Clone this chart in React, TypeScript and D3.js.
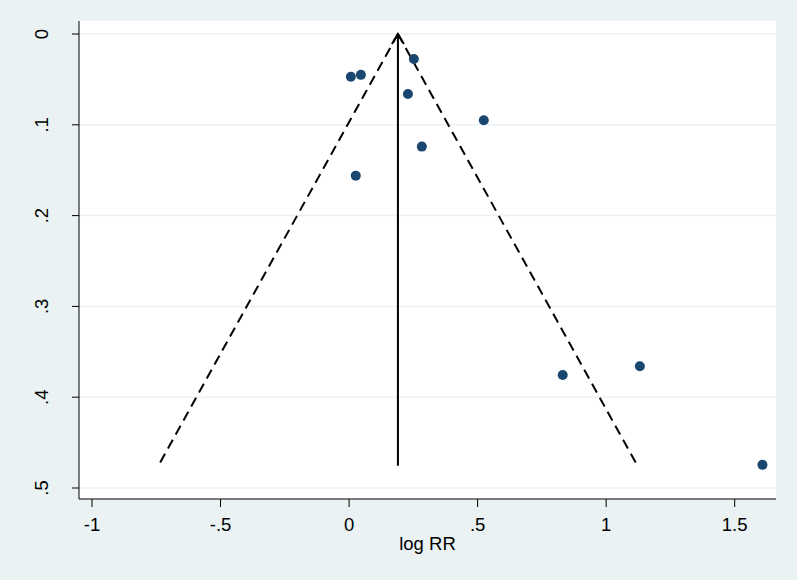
import React from "react";
import * as d3 from "d3";

// study estimates (log RR) and their standard errors
const logRR = [0.007, 0.046, 0.252, 0.229, 0.524, 0.283, 0.026, 0.831, 1.131, 1.608];
const seLogRR = [0.047, 0.045, 0.0275, 0.066, 0.095, 0.124, 0.156, 0.3755, 0.366, 0.4745];

// pooled estimate and max standard error for the funnel
const pooled = [0.19];
const seMax = [0.4755];

const xTicks = [-1, -0.5, 0, 0.5, 1, 1.5];
const yTicks = [0, 0.1, 0.2, 0.3, 0.4, 0.5];

const W = 797;
const H = 580;
const plot = { left: 79, right: 776, top: 21, bottom: 499 };

// Stata style labels: ".5", "-.5"
const fmt = (v: number) => {
  const s = String(+v.toFixed(2));
  return s.replace(/^0\./, ".").replace(/^-0\./, "-.");
};

const App = () => {
  const x = d3.scaleLinear().domain([-1, 1.5]).range([92, 734.7]);
  const y = d3.scaleLinear().domain([0, 0.5]).range([34, 488]);

  const p = pooled[0];
  const z = 1.96;
  const line = d3.line<[number, number]>()
    .x((d) => x(d[0]))
    .y((d) => y(d[1]));
  const leftLine = line([
    [p, 0],
    [p - z * seMax[0], seMax[0]],
  ]);
  const rightLine = line([
    [p, 0],
    [p + z * seMax[0], seMax[0]],
  ]);

  const font = "'Liberation Sans', Arial, sans-serif";
  const fs = 18.5;
  const ax = x(p);
  const ay = y(0);

  return (
    <svg
      width={W}
      height={H}
      style={{ position: "absolute", left: 0, top: 0 }}
      fontFamily={font}
    >
      <rect x={0} y={0} width={W} height={H} fill="#EAF2F3" />
      <rect
        x={plot.left}
        y={plot.top}
        width={plot.right - plot.left}
        height={plot.bottom - plot.top}
        fill="#FFFFFF"
      />

      {/* gridlines */}
      {yTicks.map((t) => (
        <line
          key={"g" + t}
          x1={plot.left}
          x2={plot.right}
          y1={y(t)}
          y2={y(t)}
          stroke="#EAF2F3"
          strokeWidth={1.5}
        />
      ))}

      {/* funnel */}
      <path d={leftLine || ""} fill="none" stroke="#000" strokeWidth={2} strokeDasharray="10,6" />
      <path d={rightLine || ""} fill="none" stroke="#000" strokeWidth={2} strokeDasharray="10,6" />
      <line x1={ax} x2={ax} y1={ay} y2={y(seMax[0])} stroke="#000" strokeWidth={2} />
      <polyline
        points={`${ax - 6},${ay + 10} ${ax},${ay} ${ax + 6},${ay + 10}`}
        fill="none"
        stroke="#000"
        strokeWidth={2}
      />

      {/* studies */}
      {logRR.map((v, i) => (
        <circle key={i} cx={x(v)} cy={y(seLogRR[i])} r={5} fill="#1A476F" />
      ))}

      {/* axes */}
      <line x1={plot.left} x2={plot.left} y1={plot.top} y2={plot.bottom} stroke="#000" strokeWidth={1} />
      <line x1={plot.left} x2={plot.right} y1={plot.bottom} y2={plot.bottom} stroke="#000" strokeWidth={1} />

      {yTicks.map((t) => (
        <g key={"y" + t}>
          <line x1={plot.left - 7} x2={plot.left} y1={y(t)} y2={y(t)} stroke="#000" strokeWidth={1} />
          <text
            transform={`translate(47.5,${y(t)}) rotate(-90)`}
            textAnchor="middle"
            fontSize={fs}
            fill="#000"
          >
            {fmt(t)}
          </text>
        </g>
      ))}

      {xTicks.map((t) => (
        <g key={"x" + t}>
          <line x1={x(t)} x2={x(t)} y1={plot.bottom} y2={plot.bottom + 8} stroke="#000" strokeWidth={1} />
          <text x={x(t)} y={531} textAnchor="middle" fontSize={fs} fill="#000">
            {fmt(t)}
          </text>
        </g>
      ))}

      <text x={(plot.left + plot.right) / 2} y={550} textAnchor="middle" fontSize={fs} fill="#000">
        log RR
      </text>
    </svg>
  );
};

export default App;
